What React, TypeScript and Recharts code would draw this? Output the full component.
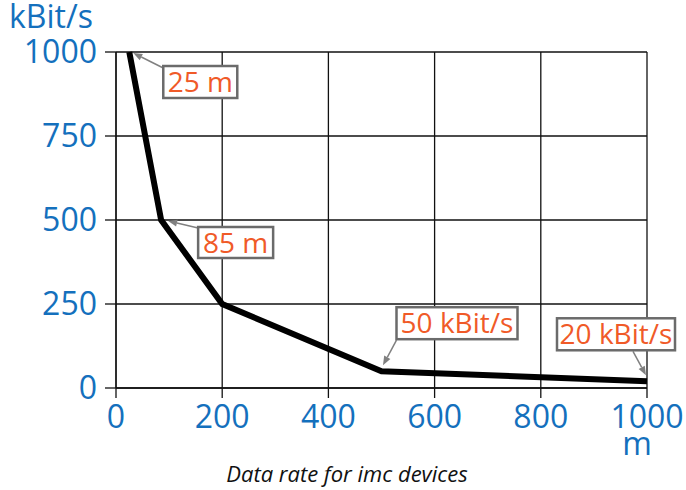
import { CartesianGrid, Label, Line, LineChart, ReferenceDot, XAxis, YAxis } from "recharts";

const BLUE = "#1470bd";
const NOTE_TEXT = "#f05a28";
const NOTE_EDGE = "#6b6b6b";
const FONT = "'Open Sans', sans-serif";

// distance (m) vs. data rate (kBit/s)
const DISTANCE = [25, 85, 200, 500, 1000];
const RATE = [1000, 500, 250, 50, 20];

const X_TICKS = [0, 200, 400, 600, 800, 1000];
const Y_TICKS = [0, 250, 500, 750, 1000];

const NOTE_LABELS = ["25 m", "85 m", "50 kBit/s", "20 kBit/s"];
const NOTE_INDEX = [0, 1, 3, 4];

// box / arrow placement relative to the annotated point, in px
const NOTE_LAYOUT = [
  { bx: 34, by: 14, bw: 74, bh: 32, sx: 34, sy: 16, tx: 4, ty: 1 },
  { bx: 37, by: 7, bw: 75, bh: 31, sx: 37, sy: 8, tx: 7, ty: 1 },
  { bx: 15, by: -64, bw: 121, bh: 32, sx: 15, sy: -31, tx: 1.5, ty: -6 },
  { bx: -90, by: -63, bw: 118, bh: 32, sx: -14, sy: -30, tx: -1, ty: -6 },
];

const data = DISTANCE.map((d, i) => ({ d, rate: RATE[i] }));

function Note({ cx, cy, label, layout }: any) {
  const { bx, by, bw, bh, sx, sy, tx, ty } = layout;
  const x1 = cx + sx;
  const y1 = cy + sy;
  const x2 = cx + tx;
  const y2 = cy + ty;
  const a = Math.atan2(y2 - y1, x2 - x1);
  const len = 9;
  const w = 3.5;
  const bxp = x2 - len * Math.cos(a);
  const byp = y2 - len * Math.sin(a);
  const head = [
    [x2, y2],
    [bxp - w * Math.sin(a), byp + w * Math.cos(a)],
    [bxp + w * Math.sin(a), byp - w * Math.cos(a)],
  ]
    .map((p) => p.join(","))
    .join(" ");
  return (
    <g>
      <line x1={x1} y1={y1} x2={bxp} y2={byp} stroke="#808080" strokeWidth={1.5} />
      <polygon points={head} fill="#808080" />
      <rect x={cx + bx} y={cy + by} width={bw} height={bh} fill="#fff" stroke={NOTE_EDGE} strokeWidth={2.5} />
      <text
        x={cx + bx + bw / 2}
        y={cy + by + bh / 2 + 10}
        textAnchor="middle"
        fill={NOTE_TEXT}
        fontSize={28}
        fontFamily={FONT}
      >
        {label}
      </text>
    </g>
  );
}

export default function App() {
  return (
    <div style={{ position: "absolute", left: 0, top: 0, width: 686, height: 490, background: "#fff" }}>
      <LineChart width={686} height={490} data={data} margin={{ top: 52, right: 39, bottom: 0, left: 0 }}>
        <CartesianGrid stroke="#111" strokeWidth={1.3} />
        <XAxis
          dataKey="d"
          type="number"
          domain={[0, 1000]}
          ticks={X_TICKS}
          height={102}
          tickSize={10}
          tickMargin={7}
          axisLine={{ stroke: "#111", strokeWidth: 1.3 }}
          tickLine={{ stroke: "#111", strokeWidth: 1.3 }}
          tick={{ fill: BLUE, fontSize: 32, fontFamily: FONT }}
        >
          <Label
            content={({ viewBox }: any) => (
              <g>
                <text x={viewBox.x + viewBox.width - 10} y={455} textAnchor="middle" fill={BLUE} fontSize={32} fontFamily={FONT}>
                  m
                </text>
                <text x={347} y={482} textAnchor="middle" fill="#111" fontSize={22} fontStyle="italic" fontFamily={FONT}>
                  Data rate for imc devices
                </text>
              </g>
            )}
          />
        </XAxis>
        <YAxis
          type="number"
          domain={[0, 1000]}
          ticks={Y_TICKS}
          width={116}
          tickSize={11}
          tickMargin={8}
          axisLine={{ stroke: "#111", strokeWidth: 1.3 }}
          tickLine={{ stroke: "#111", strokeWidth: 1.3 }}
          tick={{ fill: BLUE, fontSize: 32, fontFamily: FONT }}
        >
          <Label
            content={() => (
              <text x={9} y={28} fill={BLUE} fontSize={32} fontFamily={FONT}>
                kBit/s
              </text>
            )}
          />
        </YAxis>
        <Line
          dataKey="rate"
          type="linear"
          stroke="#000"
          strokeWidth={6}
          dot={false}
          isAnimationActive={false}
        />
        {NOTE_INDEX.map((idx, i) => (
          <ReferenceDot
            key={NOTE_LABELS[i]}
            x={DISTANCE[idx]}
            y={RATE[idx]}
            ifOverflow="visible"
            shape={(p: any) => <Note cx={p.cx} cy={p.cy} label={NOTE_LABELS[i]} layout={NOTE_LAYOUT[i]} />}
          />
        ))}
      </LineChart>
    </div>
  );
}
